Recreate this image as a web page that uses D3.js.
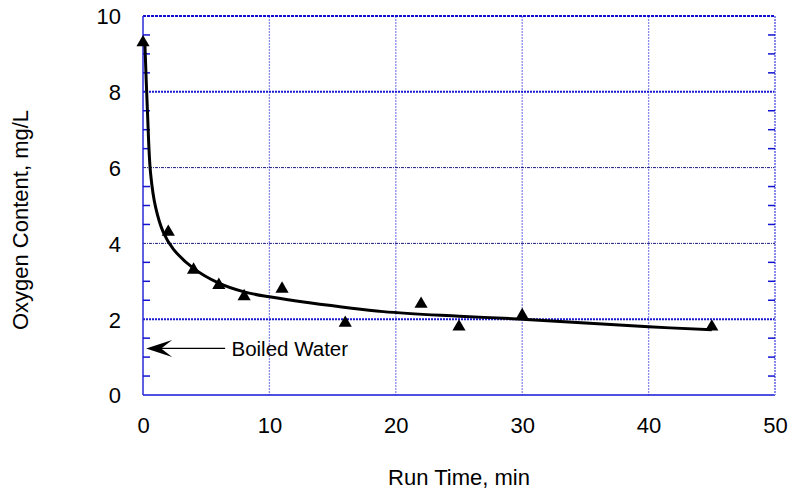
<!DOCTYPE html>
<html>
<head>
<meta charset="utf-8">
<script src="https://cdn.jsdelivr.net/npm/d3@7"></script>
<style>
  body { margin: 0; background: #fff; }
  text { font-family: "Liberation Sans", Arial, sans-serif; fill: #000; }
</style>
</head>
<body>
<div id="main"></div>
<script>
// Sizes
var svgWidth = 792;
var svgHeight = 495;
var plot = {l: 143, r: 775, t: 16, b: 395};

// Measured points (triangles)
var runTimes = [0, 2, 4, 6, 8, 11, 16, 22, 25, 30, 45];
var oxygen = [9.3, 4.3, 3.3, 2.9, 2.6, 2.8, 1.9, 2.4, 1.8, 2.1, 1.8];

// Fitted curve
var fitTimes = [0.15, 0.35, 0.6, 1.0, 1.6, 2.4, 4, 6, 8, 10, 13, 19, 25, 30, 40, 45];
var fitOxygen = [9.25, 7.5, 5.85, 4.95, 4.3, 3.85, 3.34, 2.95, 2.72, 2.59, 2.44, 2.2, 2.08, 2.0, 1.8, 1.72];

// Ticks
var xTicks = [0, 10, 20, 30, 40, 50];
var yTicks = [0, 2, 4, 6, 8, 10];
var yMinor = [0.5, 1, 1.5, 2.5, 3, 3.5, 4.5, 5, 5.5, 6.5, 7, 7.5, 8.5, 9, 9.5];

// Annotation
var noteText = 'Boiled Water';
var noteY = 1.23, noteFrom = 6.5, noteTo = 0.25, noteTextX = 7.0;

var svg = d3.select('#main')
  .append('svg')
  .attr('width', svgWidth)
  .attr('height', svgHeight);

var xScale = d3.scaleLinear().domain([0, 50]).range([plot.l, plot.r]);
var yScale = d3.scaleLinear().domain([0, 10]).range([plot.b, plot.t]);

// vertical grid lines
svg.append('g')
  .selectAll('line')
  .data(xTicks.slice(1, -1))
  .enter().append('line')
  .attr('x1', function(d) { return xScale(d); })
  .attr('x2', function(d) { return xScale(d); })
  .attr('y1', plot.t).attr('y2', plot.b)
  .attr('stroke', '#8a8ae8')
  .attr('stroke-width', 1.3)
  .attr('stroke-dasharray', '2,1');

// horizontal grid lines: 2 and 8 are heavier blue, 4 and 6 thin dark
svg.append('g')
  .selectAll('line')
  .data(yTicks.slice(1, -1))
  .enter().append('line')
  .attr('x1', plot.l).attr('x2', plot.r)
  .attr('y1', function(d) { return yScale(d); })
  .attr('y2', function(d) { return yScale(d); })
  .attr('stroke', function(d) { return (d === 2 || d === 8) ? '#1a1ad0' : '#1c1c80'; })
  .attr('stroke-width', function(d) { return (d === 2 || d === 8) ? 2 : 1; })
  .attr('stroke-dasharray', function(d) { return (d === 2 || d === 8) ? '2,1' : '3,1,1,1'; });

// frame
svg.append('line').attr('x1', plot.l).attr('x2', plot.r).attr('y1', plot.t).attr('y2', plot.t)
  .attr('stroke', '#1010cc').attr('stroke-width', 2).attr('stroke-dasharray', '3,1');
svg.append('line').attr('x1', plot.l).attr('x2', plot.r).attr('y1', plot.b).attr('y2', plot.b)
  .attr('stroke', '#1414d8').attr('stroke-width', 1.5);
svg.append('line').attr('x1', plot.l).attr('x2', plot.l).attr('y1', plot.t).attr('y2', plot.b)
  .attr('stroke', '#2a2ad8').attr('stroke-width', 1.5);
svg.append('line').attr('x1', plot.r).attr('x2', plot.r).attr('y1', plot.t).attr('y2', plot.b)
  .attr('stroke', '#8a8ae8').attr('stroke-width', 2).attr('stroke-dasharray', '2,1');

// minor ticks, left and right, pointing inward
var minor = svg.append('g').attr('stroke', '#1414d0').attr('stroke-width', 1.5);
minor.selectAll('.ml').data(yMinor).enter().append('line')
  .attr('x1', plot.l).attr('x2', plot.l + 7)
  .attr('y1', function(d) { return yScale(d); })
  .attr('y2', function(d) { return yScale(d); });
minor.selectAll('.mr').data(yMinor).enter().append('line')
  .attr('x1', plot.r - 7).attr('x2', plot.r)
  .attr('y1', function(d) { return yScale(d); })
  .attr('y2', function(d) { return yScale(d); });

// axes (labels only)
var xAxis = d3.axisBottom(xScale).tickValues(xTicks).tickSize(0).tickPadding(22);
var yAxis = d3.axisLeft(yScale).tickValues(yTicks).tickSize(0).tickPadding(22);

var gx = svg.append('g').attr('transform', 'translate(0,' + plot.b + ')').call(xAxis);
var gy = svg.append('g').attr('transform', 'translate(' + plot.l + ',0)').call(yAxis);
[gx, gy].forEach(function(g) {
  g.select('.domain').remove();
  g.selectAll('text')
    .style('font-family', '"Liberation Sans", Arial, sans-serif')
    .style('font-size', '22px')
    .attr('fill', '#000');
});
gy.selectAll('text').attr('dy', '0.36em');

// axis titles
svg.append('text')
  .attr('x', (plot.l + plot.r) / 2)
  .attr('y', 485)
  .attr('text-anchor', 'middle')
  .style('font-size', '22px')
  .text('Run Time, min');

svg.append('text')
  .attr('transform', 'translate(28,' + 220 + ') rotate(-90)')
  .attr('text-anchor', 'middle')
  .style('font-size', '22px')
  .text('Oxygen Content, mg/L');

// fitted curve
var fitData = fitTimes.map(function(t, i) { return [t, fitOxygen[i]]; });
var line = d3.line()
  .x(function(d) { return xScale(d[0]); })
  .y(function(d) { return yScale(d[1]); })
  .curve(d3.curveCatmullRom.alpha(0.5));

svg.append('path')
  .datum(fitData)
  .attr('d', line)
  .attr('fill', 'none')
  .attr('stroke', '#000')
  .attr('stroke-width', 3);

// measured points
var tri = d3.symbol().type(d3.symbolTriangle).size(75);
svg.append('g')
  .selectAll('path')
  .data(runTimes)
  .enter().append('path')
  .attr('d', tri)
  .attr('transform', function(d, i) {
    return 'translate(' + xScale(d) + ',' + yScale(oxygen[i]) + ')';
  })
  .attr('fill', '#000');

// annotation arrow
var ay = yScale(noteY);
var ax0 = xScale(noteFrom), ax1 = xScale(noteTo);
svg.append('line')
  .attr('x1', ax0).attr('x2', ax1 + 10)
  .attr('y1', ay).attr('y2', ay)
  .attr('stroke', '#000').attr('stroke-width', 1.2);
svg.append('path')
  .attr('d', 'M' + ax1 + ',' + ay +
    ' L' + (ax1 + 26) + ',' + (ay - 8.5) +
    ' L' + (ax1 + 15) + ',' + ay +
    ' L' + (ax1 + 26) + ',' + (ay + 8.5) + ' Z')
  .attr('fill', '#000');
svg.append('text')
  .attr('x', xScale(noteTextX))
  .attr('y', ay + 8)
  .style('font-size', '20.5px')
  .text(noteText);
</script>
</body>
</html>
